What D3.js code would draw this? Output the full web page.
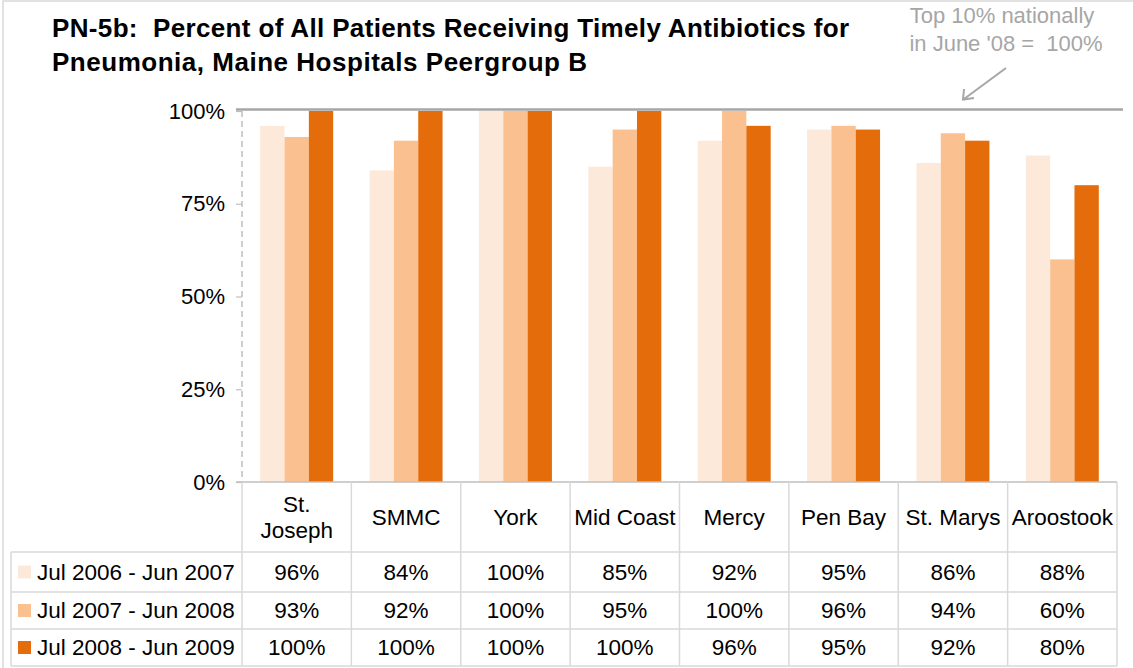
<!DOCTYPE html>
<html>
<head>
<meta charset="utf-8">
<script src="https://cdn.jsdelivr.net/npm/d3@7"></script>
<style>
  body { margin: 0; background: #fff; }
  text { font-family: "Liberation Sans", Arial, sans-serif; white-space: pre; }
</style>
</head>
<body>
<div id="chart"></div>
<script>
// data
const categories = ["St. Joseph", "SMMC", "York", "Mid Coast", "Mercy", "Pen Bay", "St. Marys", "Aroostook"];
const categoryLines = [["St.", "Joseph"], ["SMMC"], ["York"], ["Mid Coast"], ["Mercy"], ["Pen Bay"], ["St. Marys"], ["Aroostook"]];
const seriesNames = ["Jul 2006 - Jun 2007", "Jul 2007 - Jun 2008", "Jul 2008 - Jun 2009"];
const jul06 = [96, 84, 100, 85, 92, 95, 86, 88];
const jul07 = [93, 92, 100, 95, 100, 96, 94, 60];
const jul08 = [100, 100, 100, 100, 96, 95, 92, 80];
const yTicks = [0, 25, 50, 75, 100];
const benchmark = 100;

const seriesValues = [jul06, jul07, jul08];
const colors = ["#FDE9D9", "#FAC090", "#E46C0A"];

const W = 1133, H = 668;
const plot = { left: 242, right: 1117, top: 111, bottom: 482 };
const rowLines = [482, 552, 592, 629, 666];
const fs = "22.5px";

const svg = d3.select("#chart").append("svg")
  .attr("width", W)
  .attr("height", H);

// outer frame (clipped at right/bottom like the reference)
svg.append("rect")
  .attr("x", 3).attr("y", 1)
  .attr("width", W + 10).attr("height", H + 10)
  .attr("fill", "none")
  .attr("stroke", "#d9d9d9")
  .attr("stroke-width", 1.5);

// scales
const x0 = d3.scaleBand().domain(categories).range([plot.left, plot.right]);
const x1 = d3.scaleBand().domain(seriesNames)
  .range([18.2, x0.bandwidth() - 18.2]);
const y = d3.scaleLinear().domain([0, 100]).range([plot.bottom, plot.top]);

// bars
const groups = svg.append("g").selectAll("g")
  .data(categories)
  .enter().append("g")
    .attr("transform", d => `translate(${x0(d)},0)`);

groups.selectAll("rect")
  .data((d, i) => seriesNames.map((s, j) => ({ s, v: seriesValues[j][i], j })))
  .enter().append("rect")
    .attr("x", d => x1(d.s))
    .attr("y", d => y(d.v))
    .attr("width", x1.bandwidth())
    .attr("height", d => y(0) - y(d.v))
    .attr("fill", d => colors[d.j]);

// benchmark line
svg.append("line")
  .attr("x1", 236).attr("x2", 1123)
  .attr("y1", y(benchmark) - 1.5).attr("y2", y(benchmark) - 1.5)
  .attr("stroke", "#a6a6a6")
  .attr("stroke-width", 2.5);

// y axis
const yAxis = svg.append("g")
  .attr("transform", `translate(${plot.left},0)`)
  .call(d3.axisLeft(y).tickValues(yTicks).tickFormat(d => d + "%").tickSize(6).tickPadding(11));
yAxis.select(".domain").remove();
yAxis.selectAll(".tick line").attr("stroke", "#bfbfbf").attr("stroke-width", 1.2);
yAxis.selectAll(".tick text")
  .attr("fill", "#000")
  .style("font-size", "22px")
  .style("font-family", "Liberation Sans, Arial, sans-serif");

svg.append("line")
  .attr("x1", plot.left).attr("x2", plot.left)
  .attr("y1", plot.top).attr("y2", plot.bottom)
  .attr("stroke", "#bfbfbf")
  .attr("stroke-width", 1.5)
  .attr("stroke-dasharray", "6,4");

// data table grid
const grid = svg.append("g").attr("stroke", "#d9d9d9").attr("stroke-width", 1.5);
grid.append("line")
  .attr("x1", 236).attr("x2", plot.right)
  .attr("y1", plot.bottom).attr("y2", plot.bottom)
  .attr("stroke", "#bfbfbf");
rowLines.slice(1).forEach(ry => {
  grid.append("line")
    .attr("x1", 11).attr("x2", plot.right)
    .attr("y1", ry).attr("y2", ry);
});
grid.append("line")
  .attr("x1", 11).attr("x2", 11)
  .attr("y1", rowLines[1]).attr("y2", rowLines[4]);
categories.forEach(c => {
  grid.append("line")
    .attr("x1", x0(c)).attr("x2", x0(c))
    .attr("y1", plot.bottom).attr("y2", rowLines[4]);
});
grid.append("line")
  .attr("x1", plot.right).attr("x2", plot.right)
  .attr("y1", plot.bottom).attr("y2", rowLines[4]);

// category labels
const headerMid = (rowLines[0] + rowLines[1]) / 2;
categories.forEach((c, i) => {
  const lines = categoryLines[i];
  const t = svg.append("text")
    .attr("x", x0(c) + x0.bandwidth() / 2)
    .attr("text-anchor", "middle")
    .style("font-size", fs)
    .attr("fill", "#000");
  lines.forEach((ln, k) => {
    t.append("tspan")
      .attr("x", x0(c) + x0.bandwidth() / 2)
      .attr("y", headerMid + (k - (lines.length - 1) / 2) * 26)
      .attr("dy", "0.35em")
      .text(ln);
  });
});

// table rows
seriesNames.forEach((s, j) => {
  const cy = (rowLines[j + 1] + rowLines[j + 2]) / 2;
  svg.append("rect")
    .attr("x", 18).attr("y", cy - 6.5)
    .attr("width", 13).attr("height", 13)
    .attr("fill", colors[j]);
  svg.append("text")
    .attr("x", 37).attr("y", cy)
    .attr("dy", "0.35em")
    .style("font-size", fs)
    .attr("fill", "#000")
    .text(s);
  categories.forEach((c, i) => {
    svg.append("text")
      .attr("x", x0(c) + x0.bandwidth() / 2)
      .attr("y", cy)
      .attr("dy", "0.35em")
      .attr("text-anchor", "middle")
      .style("font-size", fs)
      .attr("fill", "#000")
      .text(seriesValues[j][i] + "%");
  });
});

// title
svg.append("text")
  .attr("x", 52).attr("y", 37)
  .style("font-size", "26px").style("font-weight", "bold")
  .attr("textLength", 797).attr("lengthAdjust", "spacing")
  .text("PN-5b:  Percent of All Patients Receiving Timely Antibiotics for");
svg.append("text")
  .attr("x", 52).attr("y", 71)
  .style("font-size", "26px").style("font-weight", "bold")
  .attr("textLength", 535).attr("lengthAdjust", "spacing")
  .text("Pneumonia, Maine Hospitals Peergroup B");

// annotation
svg.append("text")
  .attr("x", 1002).attr("y", 23)
  .attr("text-anchor", "middle")
  .style("font-size", "22px")
  .attr("fill", "#a6a6a6")
  .text("Top 10% nationally");
svg.append("text")
  .attr("x", 1006).attr("y", 51)
  .attr("text-anchor", "middle")
  .style("font-size", "22px")
  .attr("fill", "#a6a6a6")
  .text("in June '08 =  100%");

const ann = svg.append("g").attr("stroke", "#a6a6a6").attr("stroke-width", 2).attr("fill", "none");
ann.append("line").attr("x1", 1006).attr("y1", 68).attr("x2", 964).attr("y2", 99);
ann.append("path").attr("d", "M964,89 L963,99.5 L974,98");
</script>
</body>
</html>
